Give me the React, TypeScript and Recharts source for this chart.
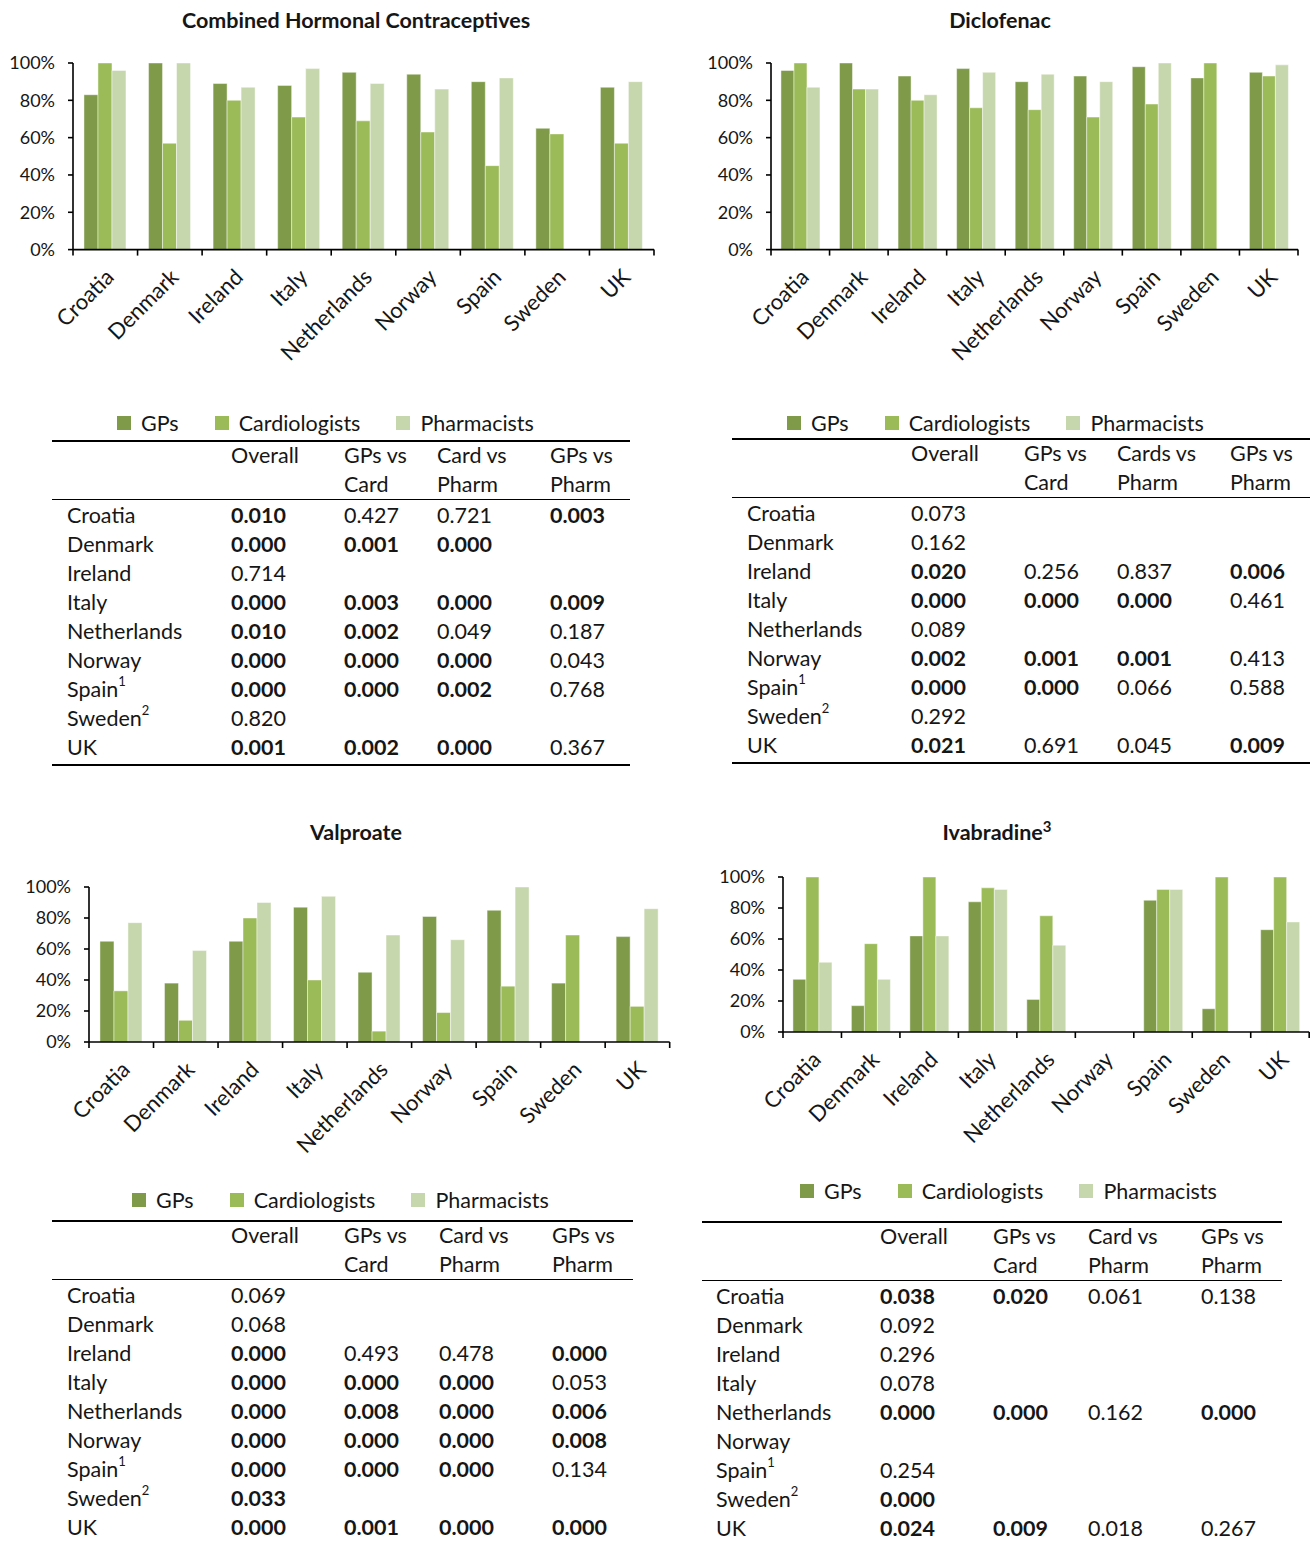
import React from 'react'
import { BarChart, Bar, XAxis, YAxis, Legend } from 'recharts'

const countries = ['Croatia', 'Denmark', 'Ireland', 'Italy', 'Netherlands', 'Norway', 'Spain', 'Sweden', 'UK']
const countryNotes = ['', '', '', '', '', '', '1', '2', '']
const seriesOrder = ['GPs', 'Cardiologists', 'Pharmacists']
const yTicks = [0, 20, 40, 60, 80, 100]

// % of respondents
const chcGPs = [83, 100, 89, 88, 95, 94, 90, 65, 87]
const chcCardio = [100, 57, 80, 71, 69, 63, 45, 62, 57]
const chcPharm = [96, 100, 87, 97, 89, 86, 92, null, 90]

const diclGPs = [96, 100, 93, 97, 90, 93, 98, 92, 95]
const diclCardio = [100, 86, 80, 76, 75, 71, 78, 100, 93]
const diclPharm = [87, 86, 83, 95, 94, 90, 100, null, 99]

const valpGPs = [65, 38, 65, 87, 45, 81, 85, 38, 68]
const valpCardio = [33, 14, 80, 40, 7, 19, 36, 69, 23]
const valpPharm = [77, 59, 90, 94, 69, 66, 100, null, 86]

const ivaGPs = [34, 17, 62, 84, 21, 0, 85, 15, 66]
const ivaCardio = [100, 57, 100, 93, 75, 0, 92, 100, 100]
const ivaPharm = [45, 34, 62, 92, 56, 0, 92, null, 71]

// p-values; a trailing * means bold (significant)
const headCard = [['Overall', ''], ['GPs vs', 'Card'], ['Card vs', 'Pharm'], ['GPs vs', 'Pharm']]
const headCards = [['Overall', ''], ['GPs vs', 'Card'], ['Cards vs', 'Pharm'], ['GPs vs', 'Pharm']]

const chcP = [
  ['0.010*', '0.427', '0.721', '0.003*'],
  ['0.000*', '0.001*', '0.000*', ''],
  ['0.714', '', '', ''],
  ['0.000*', '0.003*', '0.000*', '0.009*'],
  ['0.010*', '0.002*', '0.049', '0.187'],
  ['0.000*', '0.000*', '0.000*', '0.043'],
  ['0.000*', '0.000*', '0.002*', '0.768'],
  ['0.820', '', '', ''],
  ['0.001*', '0.002*', '0.000*', '0.367'],
]
const diclP = [
  ['0.073', '', '', ''],
  ['0.162', '', '', ''],
  ['0.020*', '0.256', '0.837', '0.006*'],
  ['0.000*', '0.000*', '0.000*', '0.461'],
  ['0.089', '', '', ''],
  ['0.002*', '0.001*', '0.001*', '0.413'],
  ['0.000*', '0.000*', '0.066', '0.588'],
  ['0.292', '', '', ''],
  ['0.021*', '0.691', '0.045', '0.009*'],
]
const valpP = [
  ['0.069', '', '', ''],
  ['0.068', '', '', ''],
  ['0.000*', '0.493', '0.478', '0.000*'],
  ['0.000*', '0.000*', '0.000*', '0.053'],
  ['0.000*', '0.008*', '0.000*', '0.006*'],
  ['0.000*', '0.000*', '0.000*', '0.008*'],
  ['0.000*', '0.000*', '0.000*', '0.134'],
  ['0.033*', '', '', ''],
  ['0.000*', '0.001*', '0.000*', '0.000*'],
]
const ivaP = [
  ['0.038*', '0.020*', '0.061', '0.138'],
  ['0.092', '', '', ''],
  ['0.296', '', '', ''],
  ['0.078', '', '', ''],
  ['0.000*', '0.000*', '0.162', '0.000*'],
  ['', '', '', ''],
  ['0.254', '', '', ''],
  ['0.000*', '', '', ''],
  ['0.024*', '0.009*', '0.018', '0.267'],
]

const FONT = 'Lato, "Open Sans", sans-serif'
const INK = '#161616'
const C_GP = '#7F9B4A'
const C_CARD = '#9BBB59'
const C_PHARM = '#C7D7AD'

const toRows = (g: (number | null)[], c: (number | null)[], p: (number | null)[]) =>
  countries.map((name, i) => ({ name, gps: g[i], cardio: c[i], pharm: p[i] }))

const renderLegend = (props: any) => {
  const items = [...(props.payload || [])].sort(
    (a: any, b: any) => seriesOrder.indexOf(a.value) - seriesOrder.indexOf(b.value)
  )
  return (
    <div style={{ display: 'flex', alignItems: 'center', gap: 36, fontFamily: FONT, fontSize: 21.5, color: INK, whiteSpace: 'nowrap' }}>
      {items.map((item: any) => (
        <div key={item.value} style={{ display: 'flex', alignItems: 'center' }}>
          <span style={{ display: 'inline-block', width: 14, height: 14, background: item.color, marginRight: 10 }} />
          {item.value}
        </div>
      ))}
    </div>
  )
}

function CountryTick(props: any) {
  const { x, y, payload, index, half } = props
  return (
    <g>
      <line x1={x - half} y1={y} x2={x - half} y2={y + 6} stroke="#000" strokeWidth={1.6} />
      {index === countries.length - 1 && (
        <line x1={x + half} y1={y} x2={x + half} y2={y + 6} stroke="#000" strokeWidth={1.6} />
      )}
      <text
        transform={`translate(${x + 10},${y + 29}) rotate(-45)`}
        textAnchor="end"
        fontFamily={FONT}
        fontSize={22}
        fill={INK}
      >
        {payload.value}
      </text>
    </g>
  )
}

type Panel = {
  title: string
  sup?: string
  data: any[]
  plotLeft: number
  plotRight: number
  plotTop: number
  plotBottom: number
  titleX: number
  titleY: number
  legendX: number
  legendY: number
}

function DrugChart({ p }: { p: Panel }) {
  const cx = p.plotLeft - 75
  const cy = p.plotTop - 20
  const W = p.plotRight - cx + 4
  const H = p.legendY + 20 - cy
  const xAxisH = H - 5 - (p.plotBottom - cy)
  const half = (p.plotRight - p.plotLeft) / countries.length / 2
  return (
    <>
      <div
        style={{
          position: 'absolute', left: p.titleX - 300, top: p.titleY - 13, width: 600, textAlign: 'center',
          fontFamily: FONT, fontWeight: 700, fontSize: 21.5, lineHeight: '26px', color: INK,
        }}
      >
        {p.title}
        {p.sup && <sup style={{ fontSize: 15, lineHeight: 0 }}>{p.sup}</sup>}
      </div>
      <div style={{ position: 'absolute', left: cx, top: cy }}>
        <BarChart
          width={W}
          height={H}
          data={p.data}
          margin={{ top: 20, left: 5, right: 4, bottom: 5 }}
          barCategoryGap="17%"
          barGap={0}
        >
          <XAxis
            dataKey="name"
            height={xAxisH}
            interval={0}
            tickLine={false}
            tickSize={0}
            tickMargin={0}
            axisLine={{ stroke: '#000', strokeWidth: 1.6 }}
            tick={<CountryTick half={half} />}
          />
          <YAxis
            width={70}
            domain={[0, 100]}
            ticks={yTicks}
            interval={0}
            tickFormatter={(v) => `${v}%`}
            axisLine={{ stroke: '#000', strokeWidth: 1.6 }}
            tickLine={{ stroke: '#000', strokeWidth: 1.6 }}
            tickSize={5}
            tickMargin={13}
            tick={{ fill: INK, fontSize: 18, fontFamily: FONT }}
          />
          <Legend
            layout="horizontal"
            verticalAlign="middle"
            align="center"
            content={renderLegend}
            wrapperStyle={{ top: p.legendY - cy - 13, left: p.legendX - cx, width: 'auto' }}
          />
          <Bar dataKey="gps" name="GPs" fill={C_GP} stroke="#fff" strokeOpacity={0.45} strokeWidth={1} isAnimationActive={false} />
          <Bar dataKey="cardio" name="Cardiologists" fill={C_CARD} stroke="#fff" strokeOpacity={0.45} strokeWidth={1} isAnimationActive={false} />
          <Bar dataKey="pharm" name="Pharmacists" fill={C_PHARM} stroke="#fff" strokeOpacity={0.45} strokeWidth={1} isAnimationActive={false} />
        </BarChart>
      </div>
    </>
  )
}

type TableProps = {
  left: number
  right: number
  top: number
  labelX: number
  colX: number[]
  headers: string[][]
  values: string[][]
}

function StatTable({ left, right, top, labelX, colX, headers, values }: TableProps) {
  const ROW = 29
  const cell = (x: number, y: number, content: React.ReactNode, bold = false, key?: string) => (
    <div
      key={key}
      style={{
        position: 'absolute', left: x - left, top: y, height: ROW, lineHeight: `${ROW}px`,
        fontWeight: bold ? 700 : 400, whiteSpace: 'nowrap',
      }}
    >
      {content}
    </div>
  )
  const headTop = 1.25
  const bodyTop = headTop + ROW * 2 + 1.5
  return (
    <div
      style={{
        position: 'absolute', left, top: top - 1.25, width: right - left, height: bodyTop + ROW * countries.length,
        borderTop: '2.5px solid #000', borderBottom: '2.5px solid #000', boxSizing: 'content-box',
        fontFamily: FONT, fontSize: 21.5, color: INK,
      }}
    >
      {headers.map((h, j) => (
        <React.Fragment key={`h${j}`}>
          {cell(colX[j], headTop - 2, h[0])}
          {cell(colX[j], headTop - 2 + ROW, h[1])}
        </React.Fragment>
      ))}
      <div style={{ position: 'absolute', left: 0, right: 0, top: headTop - 2.5 + ROW * 2, borderTop: '1.5px solid #000' }} />
      {countries.map((c, i) => (
        <React.Fragment key={c}>
          {cell(
            labelX,
            bodyTop - 2 + i * ROW,
            <>
              {c}
              {countryNotes[i] && <sup style={{ fontSize: 13, lineHeight: 0, position: 'relative', top: -2 }}>{countryNotes[i]}</sup>}
            </>
          )}
          {values[i].map((v, j) =>
            v ? cell(colX[j], bodyTop - 2 + i * ROW, v.replace('*', ''), v.endsWith('*'), `${c}${j}`) : null
          )}
        </React.Fragment>
      ))}
    </div>
  )
}

const panels: Panel[] = [
  {
    title: 'Combined Hormonal Contraceptives', data: toRows(chcGPs, chcCardio, chcPharm),
    plotLeft: 73, plotRight: 654, plotTop: 62.7, plotBottom: 249.3, titleX: 356, titleY: 20, legendX: 117, legendY: 423,
  },
  {
    title: 'Diclofenac', data: toRows(diclGPs, diclCardio, diclPharm),
    plotLeft: 771, plotRight: 1298, plotTop: 62.7, plotBottom: 249.3, titleX: 1000, titleY: 20, legendX: 787, legendY: 423,
  },
  {
    title: 'Valproate', data: toRows(valpGPs, valpCardio, valpPharm),
    plotLeft: 89.3, plotRight: 670, plotTop: 886.7, plotBottom: 1041.7, titleX: 356, titleY: 832, legendX: 132, legendY: 1200,
  },
  {
    title: 'Ivabradine', sup: '3', data: toRows(ivaGPs, ivaCardio, ivaPharm),
    plotLeft: 783.3, plotRight: 1309.5, plotTop: 876.7, plotBottom: 1031.7, titleX: 997, titleY: 832, legendX: 800, legendY: 1191,
  },
]

export default function App() {
  return (
    <div style={{ position: 'absolute', left: 0, top: 0, width: 1314, height: 1541, background: '#fff', overflow: 'hidden' }}>
      {panels.map((p) => (
        <DrugChart key={p.title} p={p} />
      ))}
      <StatTable left={52} right={630} top={441} labelX={67} colX={[231, 344, 437, 550]} headers={headCard} values={chcP} />
      <StatTable left={732} right={1310} top={439} labelX={747} colX={[911, 1024, 1117, 1230]} headers={headCards} values={diclP} />
      <StatTable left={52} right={633} top={1221} labelX={67} colX={[231, 344, 439, 552]} headers={headCard} values={valpP} />
      <StatTable left={702} right={1282} top={1222} labelX={716} colX={[880, 993, 1088, 1201]} headers={headCard} values={ivaP} />
    </div>
  )
}
